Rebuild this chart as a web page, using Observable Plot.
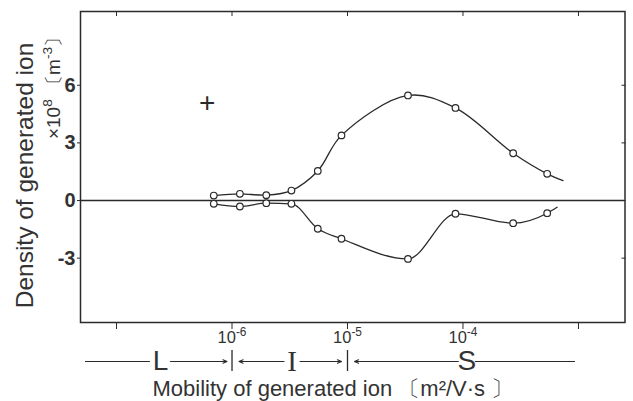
<!DOCTYPE html>
<html>
<head>
<meta charset="utf-8">
<script src="https://cdn.jsdelivr.net/npm/d3@7"></script>
<script src="https://cdn.jsdelivr.net/npm/@observablehq/plot@0.6"></script>
<style>
  html, body { margin: 0; padding: 0; background: #fff; }
  #chart { width: 633px; height: 401px; }
</style>
</head>
<body>
<div id="chart"></div>
<script>
// ---------- data ----------
const mobility = [6.95e-7, 1.17e-6, 1.98e-6, 3.27e-6, 5.53e-6, 8.87e-6, 3.34e-5, 8.61e-5, 2.72e-4, 5.36e-4];
const positiveDensity = [0.26, 0.35, 0.28, 0.52, 1.54, 3.39, 5.47, 4.82, 2.46, 1.39];
const negativeDensity = [-0.17, -0.31, -0.14, -0.17, -1.47, -1.99, -3.04, -0.69, -1.18, -0.66];
// fitted curves continue a little past the last measured point
const positiveCurveEnd = [7.36e-4, 1.04];
const negativeCurveEnd = [6.53e-4, -0.35];

const yTicks = [-3, 0, 3, 6];
const xTicks = [1e-7, 1e-6, 1e-5, 1e-4, 1e-3];
const xLabelledTicks = [1e-6, 1e-5, 1e-4];

const regionLabels = ["L", "I", "S"];
const regionCenters = [2.40e-7, 3.31e-6, 1.08e-4];
const regionBoundaries = [1e-6, 1e-5];
const bandExtent = [5.39e-8, 9.42e-4];

const plusSign = [{x: 6.1e-7, y: 5.09, text: "+"}];

const yTitle = "Density of generated ion";
const yUnit = "×10^8 〔m^-3〕";
const xTitle = "Mobility of generated ion 〔m²/V·s 〕";

// ---------- layout ----------
const W = 633, H = 401;
const mL = 80, mR = 8.5, mT = 11, mB = 79;
const xDomain = [10 ** -7.312, 10 ** -2.597];
const yDomain = [-6.35, 9.84];
const ink = "#2a2a2a";

const plotH = H - mT - mB;
const plotW = W - mL - mR;
const unitsPerPx = (yDomain[1] - yDomain[0]) / plotH;
const bandY = yDomain[0] - 39 * unitsPerPx;
const pxPerDecade = plotW / Math.log10(xDomain[1] / xDomain[0]);
const shift = (v, px) => v * 10 ** (px / pxPerDecade);
const frameCenterX = mL + plotW / 2;

const positivePts = mobility.map((m, i) => ({x: m, y: positiveDensity[i]}));
const negativePts = mobility.map((m, i) => ({x: m, y: negativeDensity[i]}));
const positiveCurve = [...positivePts, {x: positiveCurveEnd[0], y: positiveCurveEnd[1]}];
const negativeCurve = [...negativePts, {x: negativeCurveEnd[0], y: negativeCurveEnd[1]}];

const [cL, cI, cS] = regionCenters;
const [b1, b2] = regionBoundaries;
const plainSegs = [
  {x1: bandExtent[0], x2: shift(cL, -10)},
  {x1: shift(cS, 8.5), x2: bandExtent[1]}
];
const arrowSegs = [
  {x1: shift(cL, 10), x2: shift(b1, -5)},
  {x1: shift(cI, -8), x2: shift(b1, 7)},
  {x1: shift(cI, 8), x2: shift(b2, -6)},
  {x1: shift(cS, -8.5), x2: shift(b2, 7)}
];
const regions = regionLabels.map((t, i) => ({x: regionCenters[i], text: t}));

const supFmt = (d) => {
  if (!xLabelledTicks.includes(d)) return "";
  return "10^" + String(Math.round(Math.log10(d)));
};

const chart = Plot.plot({
  width: W, height: H,
  marginLeft: mL, marginRight: mR, marginTop: mT, marginBottom: mB,
  style: {fontFamily: "'Liberation Sans', Arial, sans-serif", color: ink, background: "#fff", overflow: "visible"},
  x: {type: "log", domain: xDomain, label: null},
  y: {domain: yDomain, label: null},
  marks: [
    Plot.frame({stroke: ink, strokeWidth: 1.5}),
    Plot.ruleY([0], {stroke: ink, strokeWidth: 1.5}),
    Plot.axisY({anchor: "left", ticks: yTicks, tickSize: 3, tickPadding: 2, fontSize: 20, fontWeight: "bold", tickFormat: (d) => String(d), label: null, stroke: ink, fill: "#333"}),
    Plot.axisY({anchor: "right", ticks: yTicks, tickSize: -4, tickFormat: () => "", label: null, stroke: ink}),
    Plot.axisX({anchor: "bottom", ticks: xTicks, tickSize: 7, tickPadding: 2, fontSize: 16.5, tickFormat: supFmt, label: null, stroke: ink, fill: "#333"}),
    Plot.axisX({anchor: "top", ticks: xTicks, tickSize: -4, tickFormat: () => "", label: null, stroke: ink}),
    Plot.line(positiveCurve, {x: "x", y: "y", curve: "catmull-rom", stroke: ink, strokeWidth: 1.3}),
    Plot.line(negativeCurve, {x: "x", y: "y", curve: "monotone-x", stroke: ink, strokeWidth: 1.3}),
    Plot.dot(positivePts, {x: "x", y: "y", r: 3.3, fill: "#fff", stroke: ink, strokeWidth: 1.2}),
    Plot.dot(negativePts, {x: "x", y: "y", r: 3.3, fill: "#fff", stroke: ink, strokeWidth: 1.2}),
    Plot.text(plusSign, {x: "x", y: "y", text: "text", fontSize: 28, fill: ink, lineAnchor: "middle"}),
    // L / I / S band
    Plot.ruleY(plainSegs, {x1: "x1", x2: "x2", y: () => bandY, stroke: ink, strokeWidth: 1.1}),
    Plot.arrow(arrowSegs, {x1: "x1", x2: "x2", y1: () => bandY, y2: () => bandY, stroke: ink, strokeWidth: 1.1, headLength: 6, headAngle: 45}),
    Plot.ruleX(regionBoundaries, {x: (d) => d, y1: () => bandY + 11 * unitsPerPx, y2: () => bandY - 10 * unitsPerPx, stroke: ink, strokeWidth: 1.3}),
    Plot.text(regions.filter((r) => r.text !== "I"), {x: "x", y: () => bandY, text: "text", fontSize: 28, fill: "#333", lineAnchor: "middle"}),
    Plot.text(regions.filter((r) => r.text === "I"), {x: "x", y: () => bandY, text: "text", fontSize: 29, fontFamily: "'Liberation Serif', serif", fill: "#333", lineAnchor: "middle"}),
    // titles
    Plot.text([xTitle], {frameAnchor: "bottom", text: (d) => d, textAnchor: "start", dx: 152 - frameCenterX, dy: 66, fontSize: 22, fill: "#333", lineAnchor: "middle"}),
    Plot.text([yTitle], {frameAnchor: "left", text: (d) => d, textAnchor: "middle", rotate: -90, dx: -55, dy: 8.5, fontSize: 24.5, fill: "#333", lineAnchor: "middle"}),
    Plot.text([yUnit], {frameAnchor: "left", text: (d) => d, textAnchor: "middle", rotate: -90, dx: -27, dy: -83.5, fontSize: 19, fill: "#333", lineAnchor: "middle"})
  ]
});

document.getElementById("chart").appendChild(chart);

// turn "^xx" pieces into raised tspans
d3.select(chart).selectAll("text").each(function () {
  const t = this;
  const s = t.textContent;
  if (!s.includes("^")) return;
  const fs = parseFloat(getComputedStyle(t).fontSize) || 16;
  while (t.firstChild) t.removeChild(t.firstChild);
  const parts = s.split(/(\^[^\s〔〕]+?)(?=[\s〔〕]|$)/);
  let raised = false;
  const ns = "http://www.w3.org/2000/svg";
  for (const p of parts) {
    if (!p) continue;
    const sp = document.createElementNS(ns, "tspan");
    if (p.startsWith("^")) {
      sp.textContent = p.slice(1);
      sp.setAttribute("font-size", (fs * 0.72).toFixed(1));
      if (!raised) sp.setAttribute("dy", (-fs * 0.42).toFixed(1));
      raised = true;
    } else {
      sp.textContent = p;
      if (raised) sp.setAttribute("dy", (fs * 0.42).toFixed(1));
      raised = false;
    }
    t.appendChild(sp);
  }
});
</script>
</body>
</html>
